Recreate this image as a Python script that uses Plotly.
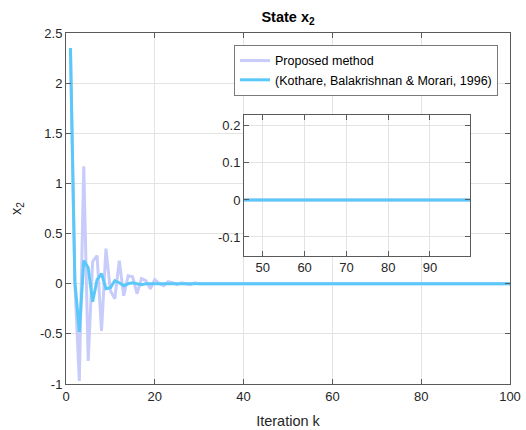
import plotly.graph_objects as go

k = list(range(1, 101))

proposed = [2.35, 0.0, -0.97, 1.17, -0.77, 0.22, 0.28, -0.47, 0.35, -0.07,
            -0.15, 0.23, -0.12, 0.08, 0.07, -0.10, 0.05, 0.03, -0.05, 0.04,
            0.00, -0.02, 0.02, 0.01, -0.01, 0.01, 0.00, -0.01, 0.01, 0.00,
            0.0, 0.0, 0.0, 0.0, 0.0, 0.0, 0.0, 0.0, 0.0, 0.0,
            0.0, 0.0, 0.0, 0.0, 0.0, 0.0, 0.0, 0.0, 0.0, 0.0,
            0.0, 0.0, 0.0, 0.0, 0.0, 0.0, 0.0, 0.0, 0.0, 0.0,
            0.0, 0.0, 0.0, 0.0, 0.0, 0.0, 0.0, 0.0, 0.0, 0.0,
            0.0, 0.0, 0.0, 0.0, 0.0, 0.0, 0.0, 0.0, 0.0, 0.0,
            0.0, 0.0, 0.0, 0.0, 0.0, 0.0, 0.0, 0.0, 0.0, 0.0,
            0.0, 0.0, 0.0, 0.0, 0.0, 0.0, 0.0, 0.0, 0.0, 0.0]

kothare = [2.35, 0.02, -0.48, 0.23, 0.16, -0.18, 0.04, 0.10, -0.05, -0.04,
           0.03, 0.01, -0.02, 0.00, 0.01, 0.00, -0.01, 0.00, 0.00, 0.00,
           0.0, 0.0, 0.0, 0.0, 0.0, 0.0, 0.0, 0.0, 0.0, 0.0,
           0.0, 0.0, 0.0, 0.0, 0.0, 0.0, 0.0, 0.0, 0.0, 0.0,
           0.0, 0.0, 0.0, 0.0, 0.0, 0.0, 0.0, 0.0, 0.0, 0.0,
           0.0, 0.0, 0.0, 0.0, 0.0, 0.0, 0.0, 0.0, 0.0, 0.0,
           0.0, 0.0, 0.0, 0.0, 0.0, 0.0, 0.0, 0.0, 0.0, 0.0,
           0.0, 0.0, 0.0, 0.0, 0.0, 0.0, 0.0, 0.0, 0.0, 0.0,
           0.0, 0.0, 0.0, 0.0, 0.0, 0.0, 0.0, 0.0, 0.0, 0.0,
           0.0, 0.0, 0.0, 0.0, 0.0, 0.0, 0.0, 0.0, 0.0, 0.0]

main_xticks = [0, 20, 40, 60, 80, 100]
main_yticks = [-1, -0.5, 0, 0.5, 1, 1.5, 2, 2.5]
inset_xticks = [50, 60, 70, 80, 90]
inset_yticks = [-0.1, 0, 0.1, 0.2]

name_p = "Proposed method"
name_k = "(Kothare, Balakrishnan & Morari, 1996)"

C_P = "#c8ccfa"
C_K = "#5bc8fa"
FONT = "Liberation Sans, Arial, Helvetica, sans-serif"
AX = "#5a5a5a"
GRID = "#e3e3e3"
TXT = "#262626"

fig = go.Figure()
fig.add_trace(go.Scatter(x=k, y=proposed, mode="lines", name=name_p,
                         line=dict(color=C_P, width=3), xaxis="x", yaxis="y"))
fig.add_trace(go.Scatter(x=k, y=kothare, mode="lines", name=name_k,
                         line=dict(color=C_K, width=3), xaxis="x", yaxis="y"))
fig.add_trace(go.Scatter(x=k, y=proposed, mode="lines", showlegend=False,
                         line=dict(color=C_P, width=3), xaxis="x2", yaxis="y2"))
fig.add_trace(go.Scatter(x=k, y=kothare, mode="lines", showlegend=False,
                         line=dict(color=C_K, width=3), xaxis="x2", yaxis="y2"))

axis_common = dict(showline=True, linecolor=AX, linewidth=1, mirror="ticks",
                   ticks="inside", ticklen=5, tickcolor=AX, showgrid=True,
                   gridcolor=GRID, gridwidth=1, zeroline=False,
                   automargin=False, ticklabeloverflow="allow",
                   tickfont=dict(family=FONT, size=13, color=TXT))

fig.update_layout(
    width=526, height=430,
    margin=dict(l=66, r=16, t=33, b=46),
    paper_bgcolor="white", plot_bgcolor="white",
    font=dict(family=FONT, color=TXT),
    title=dict(text="<b>State x<sub>2</sub></b>", x=0.5, xref="paper",
               xanchor="center", y=0.96, yref="container", yanchor="middle",
               font=dict(family=FONT, size=14.5, color="black")),
    xaxis=dict(domain=[0, 1], range=[0, 100], tickvals=main_xticks,
               title=dict(text="Iteration k", standoff=13,
                          font=dict(family=FONT, size=14.5, color=TXT)),
               **axis_common),
    yaxis=dict(domain=[0, 1], range=[-1, 2.5], tickvals=main_yticks,
               ticktext=[str(v) for v in main_yticks],
               title=dict(text="x<sub>2</sub>", standoff=14,
                          font=dict(family=FONT, size=14.5, color=TXT)),
               **axis_common),
    xaxis2=dict(domain=[0.401, 0.910], range=[45.5, 99.6], tickvals=inset_xticks,
                anchor="y2", **axis_common),
    yaxis2=dict(domain=[0.365, 0.766], range=[-0.151, 0.229], tickvals=inset_yticks,
                ticktext=["-0.1", "0", "0.1", "0.2"],
                anchor="x2", **axis_common),
    legend=dict(x=0.973, xanchor="right", y=0.966, yanchor="top",
                bgcolor="white", bordercolor="#7a7a7a", borderwidth=1,
                font=dict(family=FONT, size=12.5, color="black"),
                tracegroupgap=0, itemwidth=30),
    showlegend=True,
)

# remove the default 8px page margin so the 526x430 figure fills the window exactly
fig.write_html("out.html", config={"displayModeBar": False},
               post_script="document.body.style.margin='0';document.body.style.overflow='hidden';")
